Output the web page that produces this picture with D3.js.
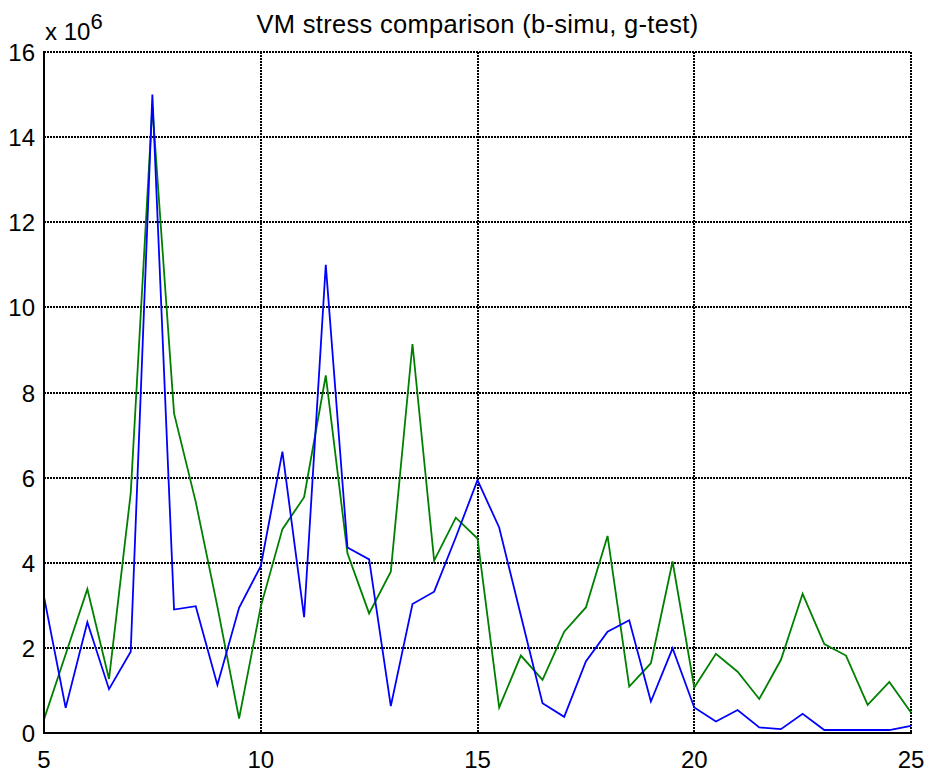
<!DOCTYPE html>
<html>
<head>
<meta charset="utf-8">
<script src="https://cdn.jsdelivr.net/npm/d3@7"></script>
<style>
  body { margin: 0; background: #fff; }
  text { font-family: "Liberation Sans", Arial, sans-serif; fill: #000; }
</style>
</head>
<body>
<svg id="chart" width="929" height="776"></svg>
<script>
// sample positions 5..25 step 0.5
const xs = [5, 5.5, 6, 6.5, 7, 7.5, 8, 8.5, 9, 9.5, 10, 10.5, 11, 11.5, 12, 12.5, 13, 13.5, 14, 14.5,
    15, 15.5, 16, 16.5, 17, 17.5, 18, 18.5, 19, 19.5, 20, 20.5, 21, 21.5, 22, 22.5, 23, 23.5, 24, 24.5, 25];

// b-simu (x 10^6)
const simu = [3.2, 0.59, 2.6, 1.03, 1.91, 15.0, 2.9, 2.98, 1.13, 2.94, 3.92, 6.61, 2.72, 11.0, 4.36, 4.08, 0.63, 3.03, 3.32, 4.6,
    5.94, 4.83, 2.76, 0.70, 0.38, 1.68, 2.38, 2.65, 0.74, 1.99, 0.60, 0.27, 0.54, 0.13, 0.09, 0.45, 0.07, 0.07, 0.07, 0.07, 0.17];

// g-test (x 10^6)
const test = [0.32, 1.85, 3.38, 1.27, 5.63, 14.72, 7.51, 5.43, 2.97, 0.34, 2.97, 4.79, 5.54, 8.40, 4.22, 2.81, 3.79, 9.14, 4.05, 5.06,
    4.57, 0.60, 1.82, 1.25, 2.38, 2.95, 4.63, 1.09, 1.64, 4.03, 1.07, 1.86, 1.44, 0.80, 1.72, 3.27, 2.09, 1.82, 0.66, 1.20, 0.48];

const xTicks = [5, 10, 15, 20, 25];
const yTicks = [0, 2, 4, 6, 8, 10, 12, 14, 16];

const m = {left: 44, right: 911, top: 52, bottom: 733};
const svg = d3.select("#chart");

const x = d3.scaleLinear().domain([5, 25]).range([m.left, m.right]);
const y = d3.scaleLinear().domain([0, 16]).range([m.bottom, m.top]);

// dotted grid
const grid = svg.append("g")
    .attr("stroke", "#000")
    .attr("stroke-width", 2)
    .attr("stroke-dasharray", "2,1")
    .attr("shape-rendering", "crispEdges");
grid.selectAll(".gx").data(xTicks).enter().append("line")
    .attr("x1", d => Math.round(x(d))).attr("x2", d => Math.round(x(d)))
    .attr("y1", m.top).attr("y2", m.bottom);
grid.selectAll(".gy").data(yTicks).enter().append("line")
    .attr("x1", m.left).attr("x2", m.right)
    .attr("y1", d => Math.round(y(d))).attr("y2", d => Math.round(y(d)));

// series
const line = d3.line().x((d, i) => x(xs[i])).y(d => y(d));
svg.append("path").datum(test)
    .attr("d", line).attr("fill", "none")
    .attr("stroke", "#008000").attr("stroke-width", 1.8);
svg.append("path").datum(simu)
    .attr("d", line).attr("fill", "none")
    .attr("stroke", "#0000ff").attr("stroke-width", 1.8);

// solid left and bottom axes
svg.append("line").attr("x1", m.left).attr("x2", m.left)
    .attr("y1", m.top - 1).attr("y2", m.bottom + 1)
    .attr("stroke", "#000").attr("stroke-width", 2);
svg.append("line").attr("x1", m.left - 1).attr("x2", m.right + 1)
    .attr("y1", m.bottom).attr("y2", m.bottom)
    .attr("stroke", "#000").attr("stroke-width", 2);

// tick labels
svg.selectAll(".xl").data(xTicks).enter().append("text")
    .attr("x", d => x(d)).attr("y", 768)
    .attr("text-anchor", "middle")
    .style("font-size", "24px")
    .text(d => d);
svg.selectAll(".yl").data(yTicks).enter().append("text")
    .attr("x", 35).attr("y", d => y(d) + 9)
    .attr("text-anchor", "end")
    .style("font-size", "24px")
    .text(d => d);

// exponent label
const ex = svg.append("text").attr("x", 45).attr("y", 40).style("font-size", "24px");
ex.append("tspan").text("x 10");
ex.append("tspan").attr("dy", -11).style("font-size", "22px").text("6");

// title
svg.append("text")
    .attr("x", (m.left + m.right) / 2).attr("y", 33)
    .attr("text-anchor", "middle")
    .style("font-size", "25.5px")
    .style("letter-spacing", "0.3px")
    .text("VM stress comparison (b-simu, g-test)");
</script>
</body>
</html>
